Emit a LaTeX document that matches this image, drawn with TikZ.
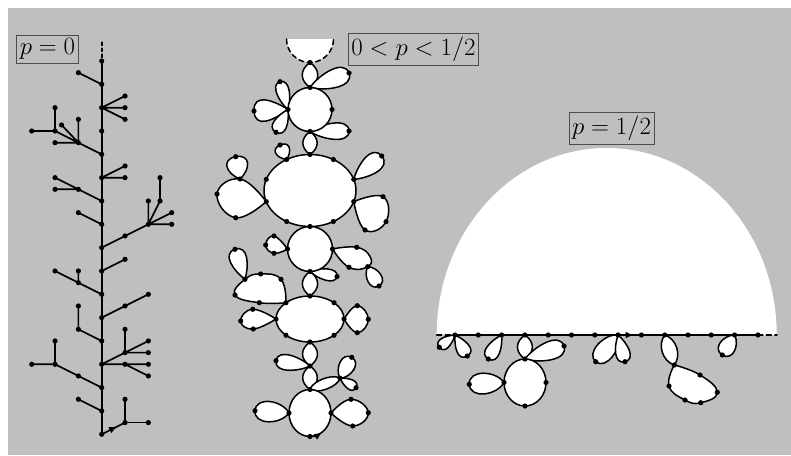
\documentclass[tikz,border=0pt]{standalone}
\usetikzlibrary{calc,arrows.meta,decorations.markings}
\definecolor{bg}{RGB}{191,191,191}
\tikzset{
  ln/.style={line width=1.5pt, line cap=round, line join=round},
  shp/.style={ln, draw=black, fill=white},
  tr/.style={line width=1.7pt, line cap=round},
  lab/.style={draw=black!70, line width=0.8pt, fill=bg, inner xsep=3pt, inner ysep=3.5pt, font=\fontsize{23.2}{28}\selectfont},
  midarrow/.style={postaction={decorate,decoration={markings,mark=at position #1 with {\arrow{Triangle[length=7pt,width=6pt]}}}}},
}
\newcommand\petal[3][1]{\draw[shp] (#2) to[out=35,in=90,relative,looseness=#1] (#3) to[out=90,in=145,relative,looseness=#1] (#2);}
\newcommand\loopp[3][1]{\draw[shp] (#2) to[out=58,in=90,relative,looseness=#1] (#3) to[out=90,in=122,relative,looseness=#1] (#2);}
\newcommand\lensp[3][1.3]{\draw[shp] (#2) to[out=55,in=125,relative,looseness=#1] (#3) to[out=55,in=125,relative,looseness=#1] (#2);}
\newcommand\blob[1]{\draw[shp] plot[smooth,tension=0.8] coordinates {#1};}
\newcommand\dotat[1]{\foreach \q in {#1} \fill (\q) circle[radius=2.6pt];}
\begin{document}
\begin{tikzpicture}[x=1pt,y=-1pt]
\useasboundingbox (0,0) rectangle (791,455);
\fill[white] (0,0) rectangle (791,455);
\fill[bg] (8,8) rectangle (791,455);

% ================= tree p=0 =================
\begin{scope}[shift={(101.7,61)},x=23.33pt,y=-23.33pt]
\foreach \k in {0,...,16} \coordinate (Ts\k) at (0,\k);
\coordinate (Ttop) at (0,-0.8);
\coordinate (Ta1) at (-1,0.5);
\coordinate (Tb1) at (1,1.5); \coordinate (Tb2) at (1,2); \coordinate (Tb3) at (1,2.5);
\coordinate (Tc0) at (-1,3.5); \coordinate (Tc1) at (-2,3.5); \coordinate (Tc2) at (-1,2.5);
\coordinate (Tc3) at (-1.72,2.74); \coordinate (Tc4) at (-2,3); \coordinate (Tc5) at (-3,3); \coordinate (Tc6) at (-2,2);
\coordinate (Td1) at (1,4.5); \coordinate (Td2) at (1,5);
\coordinate (Te0) at (-1,5.5); \coordinate (Te1) at (-2,5); \coordinate (Te2) at (-2,5.5);
\coordinate (Tf1) at (-1,6.5);
\coordinate (Tg0) at (1,7.5); \coordinate (Tg1) at (2,7); \coordinate (Tg2) at (2,6); \coordinate (Tg3) at (2.5,6);
\coordinate (Tg4) at (2.5,5); \coordinate (Tg5) at (3,6.5); \coordinate (Tg6) at (3,7);
\coordinate (Th1) at (1,8.5);
\coordinate (Ti0) at (-1,9.5); \coordinate (Ti1) at (-2,9); \coordinate (Ti2) at (-1,9);
\coordinate (Tj0) at (1,10.5); \coordinate (Tj1) at (2,10);
\coordinate (Tk0) at (-1,11.5); \coordinate (Tk1) at (-1,10.5);
\coordinate (Tl0) at (1,12.5); \coordinate (Tl1) at (1,11.5); \coordinate (Tl2) at (2,12); \coordinate (Tl3) at (2,12.5);
\coordinate (Tm0) at (1,13); \coordinate (Tm1) at (2,13); \coordinate (Tm2) at (2,13.5);
\coordinate (Tn0) at (-1,13.5); \coordinate (Tn1) at (-2,13); \coordinate (Tn2) at (-3,13); \coordinate (Tn3) at (-2,12);
\coordinate (To1) at (-1,14.5);
\coordinate (Tq0) at (1,15.5); \coordinate (Tq1) at (1,14.5); \coordinate (Tq2) at (2,15.5);
\end{scope}
\draw[tr,dashed] (Ttop) -- (Ts0);
\draw[tr] (Ts0) \foreach \k in {1,...,16}{-- (Ts\k)};
\draw[tr] (Ts1) -- (Ta1);
\draw[tr] (Ts2) -- (Tb1) (Ts2) -- (Tb2) (Ts2) -- (Tb3);
\draw[tr] (Ts4) -- (Tc0) (Tc0) -- (Tc1) (Tc0) -- (Tc2) (Tc0) -- (Tc3) (Tc0) -- (Tc4) (Tc4) -- (Tc5) (Tc4) -- (Tc6);
\draw[tr] (Ts5) -- (Td1) (Ts5) -- (Td2);
\draw[tr] (Ts6) -- (Te0) (Te0) -- (Te1) (Te0) -- (Te2);
\draw[tr] (Ts7) -- (Tf1);
\draw[tr] (Ts8) -- (Tg0) (Tg0) -- (Tg1) (Tg1) -- (Tg2) (Tg1) -- (Tg3) (Tg3) -- (Tg4) (Tg1) -- (Tg5) (Tg1) -- (Tg6);
\draw[tr] (Ts9) -- (Th1);
\draw[tr] (Ts10) -- (Ti0) (Ti0) -- (Ti1) (Ti0) -- (Ti2);
\draw[tr] (Ts11) -- (Tj0) (Tj0) -- (Tj1);
\draw[tr] (Ts12) -- (Tk0) (Tk0) -- (Tk1);
\draw[tr] (Ts13) -- (Tl0) (Tl0) -- (Tl1) (Tl0) -- (Tl2) (Tl0) -- (Tl3);
\draw[tr] (Ts13) -- (Tm0) (Tm0) -- (Tm1) (Tm0) -- (Tm2);
\draw[tr] (Ts14) -- (Tn0) (Tn0) -- (Tn1) (Tn1) -- (Tn2) (Tn1) -- (Tn3);
\draw[tr] (Ts15) -- (To1);
\draw[tr,midarrow=0.62] (Ts16) -- (Tq0);
\draw[tr] (Tq0) -- (Tq1) (Tq0) -- (Tq2);
\foreach \k in {0,...,16} \fill (Ts\k) circle[radius=2.6pt];
\dotat{Ta1,Tb1,Tb2,Tb3,Tc0,Tc1,Tc2,Tc3,Tc4,Tc5,Tc6,Td1,Td2,Te0,Te1,Te2,Tf1,Tg0,Tg1,Tg2,Tg3,Tg4,Tg5,Tg6,Th1,Ti0,Ti1,Ti2,Tj0,Tj1,Tk0,Tk1,Tl0,Tl1,Tl2,Tl3,Tm0,Tm1,Tm2,Tn0,Tn1,Tn2,Tn3,To1,Tq0,Tq1,Tq2}

% ================= chain 0<p<1/2 =================
\coordinate (hd) at (310,39);
\fill[white] (286.5,39) arc[start angle=180,end angle=360,radius=23.5pt] -- cycle;
\draw[ln,dashed,dash pattern=on 5pt off 3.5pt] (286.5,39) arc[start angle=180,end angle=360,radius=23.5pt];
\coordinate (t0) at (310,62.5);
\coordinate (c1) at (310,109.5);
\coordinate (c1t) at (310,87.5); \coordinate (c1l) at (288,109.5); \coordinate (c1r) at (332,109.5); \coordinate (c1b) at (310,131.5);
\coordinate (p1) at (349,73); \coordinate (p2) at (280,81.7); \coordinate (p3) at (254,111); \coordinate (p4) at (276,132.3); \coordinate (p5) at (349,131);
\coordinate (e2) at (310,190.5);
\coordinate (e2t) at (310,154.5); \coordinate (e2tl) at (286.65,159.48); \coordinate (e2tr) at (333.35,159.48);
\coordinate (e2lu) at (266.25,179.38); \coordinate (e2ll) at (266.25,201.62);
\coordinate (e2ru) at (353.75,179.38); \coordinate (e2rl) at (353.75,201.62);
\coordinate (e2bl) at (286.65,221.52); \coordinate (e2br) at (333.35,221.52); \coordinate (e2b) at (310,226.5);
\coordinate (p6) at (280,145);
\coordinate (b1a) at (240,179); \coordinate (b1b) at (217,194); \coordinate (b1c) at (235.7,217.7);
\coordinate (p7) at (235.7,156.7); \coordinate (p8) at (381.7,156);
\coordinate (b2a) at (383,196.7); \coordinate (b2b) at (386,221.7); \coordinate (b2c) at (365,230);
\coordinate (c3) at (310,249);
\coordinate (c3r) at (332.5,249); \coordinate (c3b) at (310,271.5); \coordinate (c3l) at (287.5,249);
\coordinate (b3a) at (356.7,247.3); \coordinate (b3x) at (370,256.5); \coordinate (b3b) at (367.7,266.7); \coordinate (b3c) at (349,267.3);
\coordinate (p9) at (379,286);
\coordinate (b4a) at (274,236); \coordinate (b4b) at (265.7,245); \coordinate (b4c) at (274,253.3);
\coordinate (p10) at (337,276.5);
\coordinate (e4) at (310,319);
\coordinate (e4t) at (310,296); \coordinate (e4tl) at (285.96,302.74); \coordinate (e4tr) at (334.04,302.74);
\coordinate (e4l) at (276,319); \coordinate (e4r) at (344,319);
\coordinate (e4bl) at (285.96,335.26); \coordinate (e4br) at (334.04,335.26); \coordinate (e4b) at (310,342);
\coordinate (b5a) at (281,279.3); \coordinate (b5b) at (260.7,274); \coordinate (b5c) at (245,279.3); \coordinate (b5d) at (235,295); \coordinate (b5e) at (259.3,302.7);
\coordinate (p11) at (235,249.3);
\coordinate (b6a) at (252.7,309.3); \coordinate (b6b) at (240.7,321); \coordinate (b6c) at (253.3,329);
\coordinate (b7a) at (357.3,305.7); \coordinate (b7b) at (368.3,319.3); \coordinate (b7c) at (357.3,332.7);
\coordinate (v1) at (310,366); \coordinate (p12) at (276,360.7);
\coordinate (c5) at (310,413);
\coordinate (c5t) at (310,389.5); \coordinate (c5l) at (289,413); \coordinate (c5r) at (331,413); \coordinate (c5b) at (310,436.5);
\coordinate (v3) at (340,378.3); \coordinate (p13) at (351.7,357.3); \coordinate (p14) at (356,387.7);
\coordinate (p15) at (255,410.7);
\coordinate (b8a) at (351,399.3); \coordinate (b8b) at (368.3,412.7); \coordinate (b8c) at (352.7,426);

\lensp{t0}{c1t}
\petal[0.95]{c1t}{p1}
\petal[0.95]{c1l}{p2}
\petal[1.35]{c1l}{p3}
\petal[1.15]{c1l}{p4}
\petal[0.9]{c1b}{p5}
\lensp{c1b}{e2t}
\loopp[1.7]{e2tl}{p6}
\blob{(e2ll) (b1a) (b1b) (b1c) (e2ll)}
\loopp[1.7]{b1a}{p7}
\petal[1.1]{e2ru}{p8}
\blob{(e2rl) (b2a) (b2b) (b2c) (e2rl)}
\blob{(c3r) (b3a) (b3x) (b3b) (b3c) (c3r)}
\loopp[1.2]{b3b}{p9}
\blob{(c3l) (b4a) (b4b) (b4c) (c3l)}
\petal[0.9]{c3b}{p10}
\lensp{c3b}{e4t}
\blob{(e4tl) (b5a) (b5b) (b5c) (b5d) (b5e) (e4tl)}
\petal[1.15]{b5c}{p11}
\blob{(e4l) (b6a) (b6b) (b6c) (e4l)}
\blob{(e4r) (b7a) (b7b) (b7c) (e4r)}
\lensp{e4b}{v1}
\petal[0.95]{v1}{p12}
\lensp{v1}{c5t}
\lensp[0.7]{c5t}{v3}
\loopp[1.2]{v3}{p13}
\petal[1.15]{v3}{p14}
\loopp[1.1]{c5l}{p15}
\blob{(c5r) (b8a) (b8b) (b8c) (c5r)}
\draw[shp] (c1) circle[radius=22pt];
\draw[shp] (e2) ellipse[x radius=46pt, y radius=36pt];
\draw[shp] (c3) circle[radius=22.5pt];
\draw[shp] (e4) ellipse[x radius=34pt, y radius=23pt];
\draw[shp] (c5) ellipse[x radius=21pt, y radius=23.5pt];
\draw[ln,-{Triangle[length=7pt,width=6pt]}] (c5b) arc[start angle=-90,end angle=-58,x radius=21pt,y radius=23.5pt];
\dotat{t0,c1t,c1l,c1r,c1b,p1,p2,p3,p4,p5,e2t,e2tl,e2tr,e2lu,e2ll,e2ru,e2rl,e2bl,e2br,e2b,p6,b1a,b1b,b1c,p7,p8,b2a,b2b,b2c,c3r,c3b,c3l,b3a,b3b,b3c,p9,b4a,b4b,b4c,p10}
\dotat{e4t,e4tl,e4tr,e4l,e4r,e4bl,e4br,e4b,b5a,b5b,b5c,b5d,b5e,p11,b6a,b6b,b6c,b7a,b7b,b7c,v1,p12,c5t,c5l,c5r,c5b,v3,p13,p14,p15,b8a,b8b,b8c}

% ================= half plane p=1/2 =================
\fill[white] (436.7,335) arc[start angle=180,end angle=0,x radius=170pt,y radius=187pt] -- cycle;
\coordinate (rl) at (436.7,335); \coordinate (rr) at (777,335);
\foreach \k in {0,...,13} \coordinate (r\k) at ({455+23.3*\k},335);
\coordinate (q1) at (439.3,347.3); \coordinate (q2) at (467.3,356); \coordinate (q3) at (488.3,359);
\coordinate (cr) at (525,382.5);
\coordinate (crt) at (524.9,359); \coordinate (crl) at (504,382.5); \coordinate (crr) at (546,382.5); \coordinate (crb) at (525,406);
\coordinate (q4) at (564,346); \coordinate (q5) at (469.3,384.3);
\coordinate (q6) at (595.7,361.7); \coordinate (q7) at (625,361.7);
\coordinate (b9) at (674.3,365);
\coordinate (b9a) at (700,375); \coordinate (b9b) at (717.3,392.3); \coordinate (b9c) at (700.7,402.7); \coordinate (b9d) at (685,400); \coordinate (b9e) at (669,386);
\coordinate (q8) at (722.3,355);
\petal[1.2]{r0}{q1}
\petal[1.2]{r0}{q2}
\petal[1.1]{r2}{q3}
\lensp{r3}{crt}
\petal[0.95]{crt}{q4}
\loopp[1.1]{crl}{q5}
\loopp[1.0]{r7}{q6}
\petal[1.1]{r7}{q7}
\lensp[1.0]{r9}{b9}
\blob{(b9) (b9a) (b9b) (b9c) (b9d) (b9e) (b9)}
\loopp[1.3]{r12}{q8}
\draw[shp] (cr) ellipse[x radius=21pt, y radius=23.5pt];
\draw[ln,dashed,dash pattern=on 5pt off 3.5pt] (rl) -- (r0);
\draw[ln] (r0) \foreach \k in {1,...,7}{-- (r\k)};
\draw[ln,midarrow=0.62] (r7) -- (r8);
\draw[ln] (r8) \foreach \k in {9,...,13}{-- (r\k)};
\draw[ln,dashed,dash pattern=on 5pt off 3.5pt] (r13) -- (rr);
\foreach \k in {0,...,13} \fill (r\k) circle[radius=2.6pt];
\dotat{q1,q2,q3,crt,crl,crr,crb,q4,q5,q6,q7,b9,b9a,b9b,b9c,b9d,b9e,q8}

% ================= labels =================
\node[lab] (lab0) at (47.5,49) {$p=0$};
\node[lab] (lab1) at (413.5,49.5) {$0<p<1/2$};
\node[lab] (lab2) at (611.5,128) {$p=1/2$};
\end{tikzpicture}
\end{document}
